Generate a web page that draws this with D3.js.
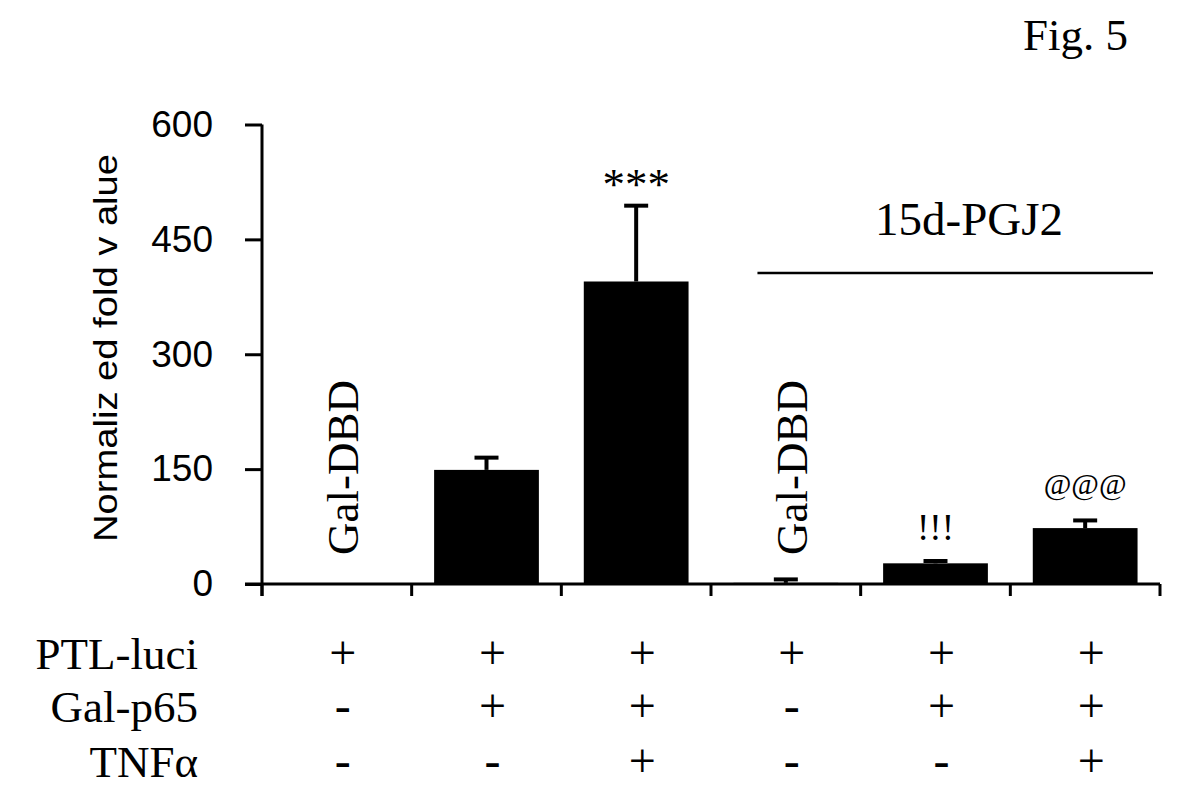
<!DOCTYPE html>
<meta charset="utf-8">
<style>
  body { margin: 0; background: #fff; }
  text { fill: #000; }
</style>
<body>
<script src="https://cdn.jsdelivr.net/npm/d3@7"></script>
<script>

// data
var groups   = ["1", "2", "3", "4", "5", "6"];
var means    = [0.5, 149, 395, 1.5, 27, 73];
var errors   = [0, 16, 99, 4.5, 3, 10];
var yTicks   = [0, 150, 300, 450, 600];
var rowNames = ["PTL-luci", "Gal-p65", "TNF\u03b1"];
var ptlLuci  = ["+", "+", "+", "+", "+", "+"];
var galP65   = ["-", "+", "+", "-", "+", "+"];
var tnfA     = ["-", "-", "+", "-", "-", "+"];
var marks    = [{i: 2, t: "***"}, {i: 4, t: "!!!"}, {i: 5, t: "@@@"}];
var dbdBars  = [0, 3];

var width = 1186, height = 806;
var serif = "'Liberation Serif', 'Times New Roman', serif";
var sans  = "'Liberation Sans', Arial, sans-serif";

var svg = d3.select("body").append("svg")
    .attr("width", width)
    .attr("height", height);

var x = d3.scaleBand()
    .domain(groups)
    .range([262, 1160])
    .paddingInner(0.3)
    .paddingOuter(0.15);

var y = d3.scaleLinear()
    .domain([0, 600])
    .range([584, 124.5]);

function cx(i){ return x(groups[i]) + x.bandwidth() / 2; }

// y axis
var yAxis = svg.append("g")
    .attr("transform", "translate(262,0)")
    .call(d3.axisLeft(y).tickValues(yTicks).tickSize(17).tickPadding(32));
yAxis.select(".domain").remove();
yAxis.selectAll("line").attr("stroke", "#000").attr("stroke-width", 3);
yAxis.selectAll("text")
    .style("font-family", sans)
    .style("font-size", "37px")
    .attr("fill", "#000");

svg.append("line")
    .attr("x1", 262).attr("x2", 262)
    .attr("y1", y(600)).attr("y2", y(0) + 12)
    .attr("stroke", "#000").attr("stroke-width", 3);

// x axis line and band ticks
svg.append("line")
    .attr("x1", 245).attr("x2", x.range()[1])
    .attr("y1", y(0)).attr("y2", y(0))
    .attr("stroke", "#000").attr("stroke-width", 3);

svg.selectAll(".xtick").data(d3.range(groups.length + 1)).enter()
  .append("line")
    .attr("class", "xtick")
    .attr("x1", function(d){ return x.range()[0] + d * x.step(); })
    .attr("x2", function(d){ return x.range()[0] + d * x.step(); })
    .attr("y1", y(0)).attr("y2", y(0) + 12)
    .attr("stroke", "#000").attr("stroke-width", 3);

// y title
svg.append("text")
    .attr("transform", "translate(117,348) rotate(-90)")
    .attr("text-anchor", "middle")
    .attr("textLength", 388)
    .attr("lengthAdjust", "spacingAndGlyphs")
    .style("font-family", sans)
    .style("font-size", "33px")
    .text("Normaliz ed fold v alue");

// bars
svg.selectAll(".bar").data(means).enter()
  .append("rect")
    .attr("class", "bar")
    .attr("x", function(d, i){ return x(groups[i]); })
    .attr("width", x.bandwidth())
    .attr("y", function(d){ return y(d); })
    .attr("height", function(d){ return y(0) - y(d); })
    .attr("fill", "#000");

// error bars
var errData = means.map(function(m, i){ return {i: i, m: m, e: errors[i]}; })
    .filter(function(d){ return d.e > 0; });

var eb = svg.selectAll(".err").data(errData).enter()
  .append("g").attr("class", "err");

eb.append("line")
    .attr("x1", function(d){ return cx(d.i); })
    .attr("x2", function(d){ return cx(d.i); })
    .attr("y1", function(d){ return y(d.m); })
    .attr("y2", function(d){ return y(d.m + d.e); })
    .attr("stroke", "#000").attr("stroke-width", 4);

eb.append("line")
    .attr("x1", function(d){ return cx(d.i) - 12; })
    .attr("x2", function(d){ return cx(d.i) + 12; })
    .attr("y1", function(d){ return y(d.m + d.e); })
    .attr("y2", function(d){ return y(d.m + d.e); })
    .attr("stroke", "#000").attr("stroke-width", 4);

// significance marks
var markStyle = {"***": [45, 7], "!!!": [37, 21], "@@@": [30, 26]};
svg.selectAll(".mark").data(marks).enter()
  .append("text")
    .attr("class", "mark")
    .attr("x", function(d){ return cx(d.i); })
    .attr("y", function(d){ return y(means[d.i] + errors[d.i]) - markStyle[d.t][1]; })
    .attr("text-anchor", "middle")
    .style("font-family", serif)
    .style("font-size", function(d){ return markStyle[d.t][0] + "px"; })
    .text(function(d){ return d.t; });

// Gal-DBD labels
svg.selectAll(".dbd").data(dbdBars).enter()
  .append("text")
    .attr("class", "dbd")
    .attr("transform", function(d){
      return "translate(" + (cx(d) + 21) + ",555) rotate(-90)";
    })
    .style("font-family", serif)
    .style("font-size", "45px")
    .text("Gal-DBD");

// 15d-PGJ2 bracket
svg.append("line")
    .attr("x1", x(groups[3]) + 24).attr("x2", x.range()[1] - 7)
    .attr("y1", 273).attr("y2", 273)
    .attr("stroke", "#000").attr("stroke-width", 2.5);

svg.append("text")
    .attr("x", 969).attr("y", 235)
    .attr("text-anchor", "middle")
    .style("font-family", serif)
    .style("font-size", "47px")
    .text("15d-PGJ2");

svg.append("text")
    .attr("x", 1128).attr("y", 50)
    .attr("text-anchor", "end")
    .style("font-family", serif)
    .style("font-size", "45px")
    .text("Fig. 5");

// treatment table
var rows = [ptlLuci, galP65, tnfA];
var rowY = [669, 722, 777];

svg.selectAll(".rowname").data(rowNames).enter()
  .append("text")
    .attr("class", "rowname")
    .attr("x", 198)
    .attr("y", function(d, i){ return rowY[i]; })
    .attr("text-anchor", "end")
    .style("font-family", serif)
    .style("font-size", "45px")
    .text(function(d){ return d; });

rows.forEach(function(r, j){
  svg.selectAll(".cell" + j).data(r).enter()
    .append("text")
      .attr("class", "cell" + j)
      .attr("x", function(d, i){ return cx(i) + 6; })
      .attr("y", rowY[j])
      .attr("text-anchor", "middle")
      .style("font-family", serif)
      .style("font-size", "48px")
      .text(function(d){ return d; });
});

</script>
</body>
